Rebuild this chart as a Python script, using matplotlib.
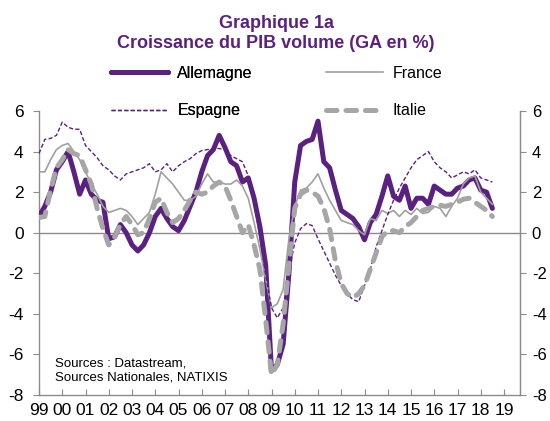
import matplotlib
matplotlib.use("Agg")
import matplotlib.pyplot as plt
import numpy as np

plt.rcParams['font.family'] = ['Liberation Sans', 'DejaVu Sans']

# Quarterly data, 1999Q1 .. 2018Q3 (year-on-year growth, %)
start_year = 1999.0
allemagne = [
    0.8, 1.3, 2.0, 3.1,      # 1999
    3.5, 4.0, 3.0, 1.9,      # 2000
    2.6, 1.9, 1.6, 1.5,      # 2001
    -0.3, -0.2, 0.4, 0.0,    # 2002
    -0.6, -0.9, -0.6, 0.0,   # 2003
    0.8, 1.2, 0.7, 0.3,      # 2004
    0.1, 0.6, 1.3, 2.0,      # 2005
    3.0, 3.8, 4.1, 4.8,      # 2006
    4.2, 3.5, 3.3, 2.5,      # 2007
    2.7, 1.7, 0.3, -1.6,     # 2008
    -6.8, -6.5, -5.5, -2.0,  # 2009
    2.5, 4.3, 4.5, 4.6,      # 2010
    5.5, 3.5, 3.2, 2.1,      # 2011
    1.1, 0.9, 0.7, 0.3,      # 2012
    -0.35, 0.5, 0.9, 1.8,    # 2013
    2.8, 1.8, 1.6, 2.3,      # 2014
    1.2, 1.7, 1.7, 1.4,      # 2015
    2.3, 2.1, 1.9, 1.9,      # 2016
    2.2, 2.3, 2.6, 2.7,      # 2017
    2.1, 2.0, 1.2,           # 2018
]
france = [
    3.0, 3.0, 3.6, 4.1,
    4.3, 4.4, 4.0, 3.6,
    3.0, 2.4, 1.9, 1.3,
    1.0, 1.1, 1.2, 1.1,
    0.8, 0.4, 0.7, 1.0,
    1.9, 3.0, 2.7, 2.4,
    2.0, 1.6, 1.6, 1.8,
    2.4, 2.9, 2.5, 2.5,
    2.4, 2.4, 2.6, 2.3,
    1.7, 0.5, -0.8, -2.3,
    -3.7, -3.5, -2.8, -0.3,
    1.3, 2.1, 2.2, 2.5,
    2.9, 2.2, 1.6, 1.1,
    0.6, 0.5, 0.4, 0.1,
    -0.1, 0.7, 0.6, 1.1,
    0.95, 1.1, 0.8, 1.1,
    0.9, 1.2, 0.95, 1.0,
    1.3, 1.2, 0.8, 1.3,
    1.7, 2.4, 2.7, 2.8,
    2.0, 1.7, 1.4,
]
espagne = [
    3.9, 4.6, 4.65, 4.8,
    5.45, 5.2, 5.1, 5.1,
    4.3, 4.0, 3.7, 3.3,
    3.1, 2.8, 2.6, 2.9,
    3.0, 3.1, 3.2, 3.4,
    3.0, 3.1, 3.4, 3.0,
    3.3, 3.5, 3.65, 3.9,
    4.05, 4.1, 4.15, 4.15,
    4.1, 3.8, 3.65, 3.5,
    2.8, 1.5, -0.2, -2.1,
    -3.7, -4.2, -3.7, -1.9,
    -0.5, 0.2, 0.45, 0.35,
    -0.3, -0.9, -1.5, -2.1,
    -2.6, -3.0, -3.3, -3.4,
    -2.6, -1.8, -0.7, 0.1,
    0.9, 1.6, 2.2, 2.7,
    3.2, 3.6, 3.8, 4.0,
    3.5, 3.2, 3.0, 2.7,
    2.85, 3.0, 2.9, 3.1,
    2.7, 2.6, 2.5,
]
italie = [
    0.75, 0.8, 2.1, 3.2,
    3.6, 4.1, 3.9, 3.8,
    3.1, 2.4, 1.2, 0.2,
    -0.6, -0.2, 0.4, 0.8,
    0.4, -0.1, 0.0, 0.7,
    1.5, 1.7, 1.0, 0.5,
    0.7, 1.1, 1.6, 2.0,
    1.9, 2.0, 2.3, 2.5,
    2.3, 1.6, 0.8, 0.0,
    0.4, -0.6, -1.8, -4.3,
    -7.0, -6.5, -4.5, -1.6,
    1.2, 1.9, 2.1, 2.0,
    1.8, 1.2, 0.2, -1.4,
    -2.5, -3.0, -3.2, -3.0,
    -2.6, -1.8, -1.0, -0.2,
    0.1, 0.1, 0.0, 0.3,
    0.5, 0.8, 1.1, 1.2,
    1.3, 1.35, 1.3, 1.4,
    1.5, 1.65, 1.7, 1.5,
    1.3, 1.1, 0.8,
]
series_names = ["Allemagne", "France", "Espagne", "Italie"]
year_ticks = list(range(1999, 2020))
year_labels = ["99", "00", "01", "02", "03", "04", "05", "06", "07", "08", "09",
               "10", "11", "12", "13", "14", "15", "16", "17", "18", "19"]
y_ticks = [6, 4, 2, 0, -2, -4, -6, -8]

PURPLE = "#5B2181"
GRAY = "#A6A6A6"
AXGRAY = "#8C8C8C"

t = start_year + 0.25 * np.arange(len(allemagne))

fig = plt.figure(figsize=(5.5, 4.21), dpi=100)
ax = fig.add_axes([39 / 550, 1 - 395 / 421, (520 - 39) / 550, (395 - 111) / 421])

ax.axhline(0, color=AXGRAY, lw=1.0, zorder=1)

l1, = ax.plot(t, allemagne, color=PURPLE, lw=3.6, solid_joinstyle='round',
              solid_capstyle='round', zorder=3, label=series_names[0])
l2, = ax.plot(t, france, color="#A0A0A0", lw=1.2, zorder=3, label=series_names[1])
l3, = ax.plot(t, espagne, color=PURPLE, lw=1.0, dashes=(3, 1.6), zorder=4,
              label=series_names[2])
l4, = ax.plot(t, italie, color=GRAY, lw=3.6, dashes=(2.1, 1.8),
              dash_capstyle='round', zorder=4, label=series_names[3])

xlim = (1999.0, 1999.0 + (520 - 39) / 23.25)
ax.set_xlim(*xlim)
ax.set_ylim(-8, 6)
ax.set_xticks(year_ticks)
ax.set_xticklabels(year_labels)
ax.set_yticks(y_ticks)
ax.set_yticklabels([str(v) for v in y_ticks])

for s in ["left", "right", "bottom"]:
    ax.spines[s].set_color(AXGRAY)
    ax.spines[s].set_linewidth(1.0)
ax.spines["top"].set_visible(False)

ax.tick_params(axis='x', direction='in', length=4, color=AXGRAY, labelsize=12.5,
               pad=6, labelcolor='black')
ax.tick_params(axis='y', direction='out', length=4, color=AXGRAY, labelsize=12.5,
               pad=7, labelcolor='black')

# right axis with same scale
ax2 = ax.twinx()
ax2.set_ylim(-8, 6)
ax2.set_yticks(y_ticks)
ax2.set_yticklabels([str(v) for v in y_ticks])
for s in ["left", "top", "bottom"]:
    ax2.spines[s].set_visible(False)
ax2.spines["right"].set_color(AXGRAY)
ax2.tick_params(axis='y', direction='out', length=4, color=AXGRAY, labelsize=12,
                pad=4.5, labelcolor='black')

# Title
fig.text(0.502, 1 - 23 / 421, "Graphique 1a", ha='center', va='center',
         fontsize=13, fontweight='bold', color=PURPLE)
fig.text(0.502, 1 - 44 / 421, "Croissance du PIB volume (GA en %)", ha='center',
         va='center', fontsize=13, fontweight='bold', color=PURPLE)

# Legends (two columns)
leg_kw = dict(loc='upper left', frameon=False, fontsize=11.5, handlelength=3.55,
              handletextpad=0.6, labelspacing=1.4, borderpad=0, borderaxespad=0)
leg1 = fig.legend(handles=[l1, l3], bbox_to_anchor=(111 / 550, 1 - 66 / 421), **leg_kw)
fig.legend(handles=[l2, l4], bbox_to_anchor=(326 / 550, 1 - 66 / 421), **leg_kw)
fig.add_artist(leg1)

# Sources
fig.text(55 / 550, 1 - 363 / 421, "Sources : Datastream,", ha='left', va='center',
         fontsize=9.5, color='black')
fig.text(55 / 550, 1 - 378 / 421, "Sources Nationales, NATIXIS", ha='left',
         va='center', fontsize=9.5, color='black')

fig.savefig("out.png", dpi=100)
